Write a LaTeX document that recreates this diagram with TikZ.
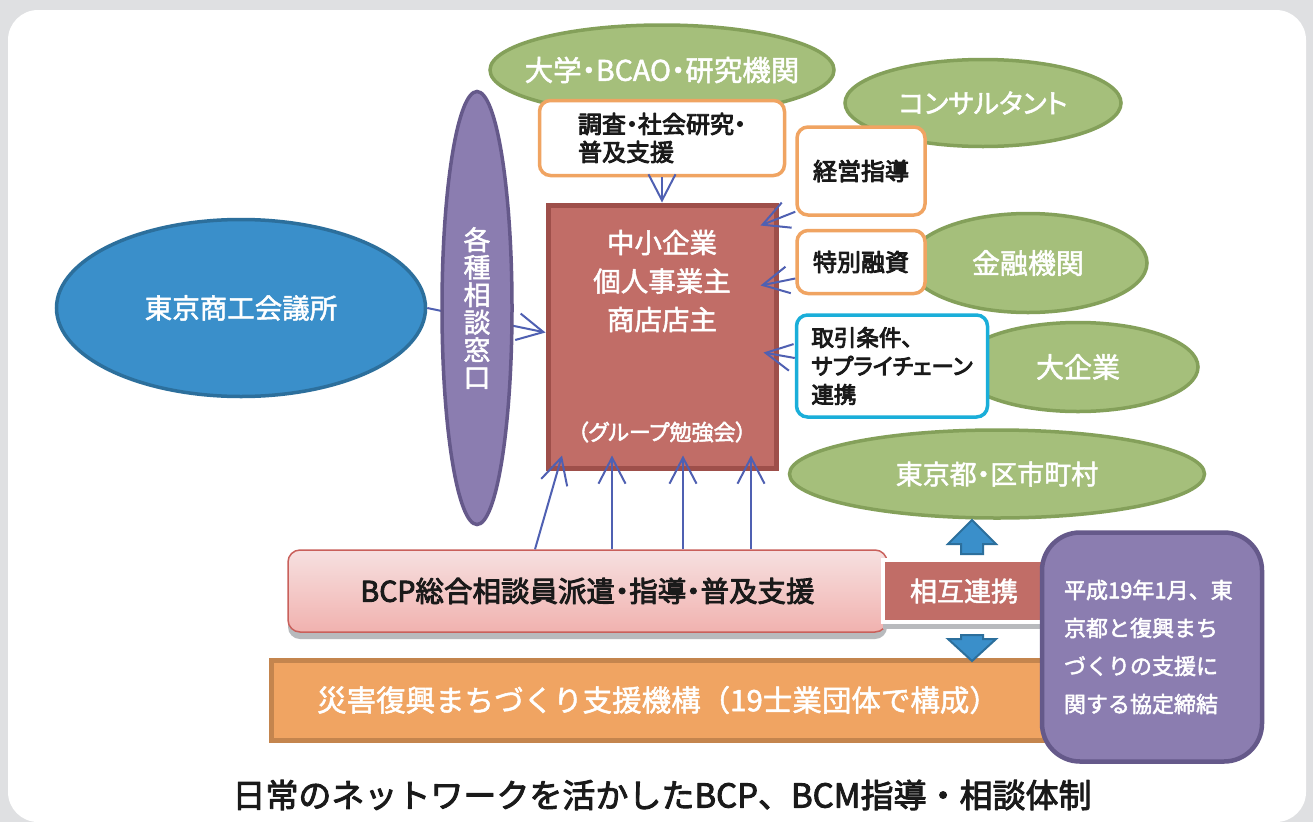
\documentclass[tikz,border=0pt]{standalone}
\usepackage{fontspec}
\setmainfont[RawFeature=+palt]{Noto Sans CJK JP}
\newfontfamily\fullfont{Noto Sans CJK JP}
\newcommand\wstroke{\special{pdf:literal direct 0.5 w 1 j 2 Tr}}
\newcommand\dstroke{\special{pdf:literal direct 0.9 w 1 j 2 Tr}}
\XeTeXlinebreaklocale "ja"
\XeTeXlinebreakskip=0pt plus 6pt
\usetikzlibrary{arrows.meta,shapes.geometric,shadows}
\definecolor{grnF}{HTML}{A5BF7B}
\definecolor{grnB}{HTML}{84A05A}
\definecolor{redF}{HTML}{C16D67}
\definecolor{redB}{HTML}{9E4F4A}
\definecolor{purF}{HTML}{8B7DB0}
\definecolor{purB}{HTML}{65598A}
\definecolor{bluF}{HTML}{3A8FCA}
\definecolor{bluB}{HTML}{2C6F9C}
\definecolor{orgB}{HTML}{F0A462}
\definecolor{orgF}{HTML}{F0A462}
\definecolor{orgD}{HTML}{C4854E}
\definecolor{cyaB}{HTML}{1AAED9}
\definecolor{arrC}{HTML}{4F60B2}
\definecolor{pinkT}{HTML}{F6E0E0}
\definecolor{pinkB}{HTML}{F1B2AF}
\definecolor{pinkD}{HTML}{C9605B}
\definecolor{bgG}{HTML}{DFE0E2}
\definecolor{shd}{HTML}{B8BABD}
\definecolor{txt}{HTML}{1A1A1A}
\begin{document}
\begin{tikzpicture}[x=1pt,y=-1pt,
  greenell/.style={ellipse, draw=grnB, line width=3.5pt, fill=grnF, text=white, inner sep=0pt, font=\wstroke\fontsize{27}{32}\selectfont},
  obox/.style={rectangle, rounded corners=11pt, draw=orgB, line width=3.5pt, fill=white, text=txt, inner sep=0pt, align=left, font=\dstroke\fontsize{24}{28}\selectfont},
  conn/.style={draw=arrC, line width=2pt, -{Straight Barb[length=26pt,width=27pt,line width=2pt]}},
  fatc/.style={draw=bluB, fill=bluF, line width=2pt, line join=miter},
  wtext/.style={text=white, inner sep=0pt, align=center}
]
\useasboundingbox (0,0) rectangle (1313,822);
% background
\fill[bgG] (0,0) rectangle (1313,822);
\fill[white, rounded corners=30pt] (8,10) rectangle (1306,822);

% top green ellipses and their boxes
\node[greenell, minimum width=344pt, minimum height=90pt] (univ) at (662,70) {};
\node[wtext, font=\wstroke\fontsize{28.5}{32}\selectfont] (univtext) at (662,70) {大学・BCAO・研究機関};
\node[obox, minimum width=245pt, minimum height=75pt] (survey) at (662,138) {調査・社会研究・\\普及支援};
\node[greenell, minimum width=276pt, minimum height=87pt] (consult) at (983,103) {コンサルタント};
\node[obox, minimum width=128pt, minimum height=88pt] (keiei) at (861,171) {経営指導};
\node[greenell, minimum width=238pt, minimum height=99pt, font=\wstroke\fontsize{28}{32}\selectfont] (bank) at (1028,263) {金融機関};
\node[obox, minimum width=128pt, minimum height=63pt] (yushi) at (861,262) {特別融資};
\node[greenell, minimum width=240pt, minimum height=89pt, font=\wstroke\fontsize{28}{32}\selectfont] (bigco) at (1078,367) {大企業};
\node[obox, draw=cyaB, minimum width=191pt, minimum height=102pt, font=\dstroke\fontsize{22.5}{28.5}\selectfont] (torihiki) at (892,366) {取引条件、\\サプライチェーン\\連携};
\node[greenell, minimum width=415pt, minimum height=88pt] (tokyo) at (997,474) {東京都・区市町村};

% central red box
\node[draw=redB, line width=5pt, fill=redF, minimum width=228pt, minimum height=263pt, inner sep=0pt] (sme) at (662,336.5) {};
\node[wtext, font=\wstroke\fontsize{27.5}{38.5}\selectfont] (smetext) at (662,281) {中小企業\\個人事業主\\商店店主};
\node[wtext, font=\wstroke\fontsize{22}{26}\selectfont] (study) at (662,432) {（グループ勉強会）};

% left side
\node[ellipse, draw=bluB, line width=3.5pt, fill=bluF, minimum width=369pt, minimum height=177pt, inner sep=0pt, text=white, font=\wstroke\fontsize{27.5}{32}\selectfont] (cci) at (241,308) {東京商工会議所};
\draw[conn] (cci.east) -- ([yshift=4pt]sme.west);
\node[ellipse, draw=purB, line width=3.5pt, fill=purF, minimum width=70pt, minimum height=433pt, inner sep=0pt, text=white, align=center, font=\wstroke\fontsize{27}{27.5}\selectfont] (window) at (477,308) {各\\種\\相\\談\\窓\\口};

% arrows into the red box
\draw[conn] (survey.south) -- (sme.north);
\draw[conn] ([yshift=5pt]keiei.south west) -- ([xshift=-18pt,yshift=-23pt]sme.north east);
\draw[conn] ([yshift=-16.5pt]yushi.west) -- ([xshift=-18pt,yshift=-83pt]sme.north east);
\draw[conn] ([yshift=8pt]torihiki.west) -- ([xshift=-15pt,yshift=-150pt]sme.north east);

% BCP box
\node[rectangle, rounded corners=12pt, draw=pinkD, line width=1.5pt, top color=pinkT, bottom color=pinkB, minimum width=599pt, minimum height=82pt, inner sep=0pt, text=txt, font=\dstroke\fontsize{28.5}{32}\selectfont, drop shadow={shadow xshift=0pt, shadow yshift=-7pt, fill=shd, opacity=1}] (bcp) at (587.5,591) {BCP総合相談員派遣・指導・普及支援};
\draw[conn] ([xshift=-52.5pt]bcp.north) -- ([xshift=-100pt,yshift=15pt]sme.south);
\draw[conn] ([xshift=24.5pt]bcp.north) -- ([xshift=-50pt,yshift=15pt]sme.south);
\draw[conn] ([xshift=95.5pt]bcp.north) -- ([xshift=21pt,yshift=15pt]sme.south);
\draw[conn] ([xshift=163.5pt]bcp.north) -- ([xshift=89pt,yshift=15pt]sme.south);

% orange bottom box
\node[rectangle, draw=orgD, line width=5pt, fill=orgF, minimum width=773pt, minimum height=80pt, inner sep=0pt, text=white, font=\wstroke\fullfont\fontsize{29.5}{34}\selectfont] (kiko) at (658,700) {災害復興まちづくり支援機構（19士業団体で構成）};

% mutual box and fat arrows
\node[rectangle, draw=white, line width=4pt, fill=redF, minimum width=162pt, minimum height=62pt, inner sep=0pt, text=white, font=\wstroke\fontsize{27}{32}\selectfont, drop shadow={shadow xshift=0pt, shadow yshift=-7pt, fill=shd, opacity=1}] (mutual) at (964,591) {相互連携};
\draw[fatc] ([xshift=8pt,yshift=4pt]mutual.north) ++(-11,0) -- ++(0,-10) -- ++(-13,0) -- ++(24,-24) -- ++(24,24) -- ++(-13,0) -- ++(0,10) -- cycle;
\draw[fatc] ([xshift=8pt,yshift=-11pt]mutual.south) ++(-11,0) -- ++(0,4) -- ++(-13,0) -- ++(24,22) -- ++(24,-22) -- ++(-13,0) -- ++(0,-4) -- cycle;

% purple agreement box
\node[rectangle, rounded corners=38pt, draw=purB, line width=4.5pt, fill=purF, minimum width=220pt, minimum height=229pt, inner sep=0pt, text=white, align=left, font=\wstroke\fullfont\fontsize{22}{38}\selectfont] (agree) at (1152,647) {\makebox[176pt][s]{平成19年1月、東}\\\makebox[176pt][s]{京都と復興まち}\\\makebox[176pt][s]{づくりの支援に}\\\makebox[176pt][l]{関する協定締結}};

% caption
\node[text=txt, inner sep=0pt, font=\dstroke\fullfont\fontsize{33}{38}\selectfont] (caption) at (662,795) {日常のネットワークを活かしたBCP、BCM指導・相談体制};
\end{tikzpicture}
\end{document}
